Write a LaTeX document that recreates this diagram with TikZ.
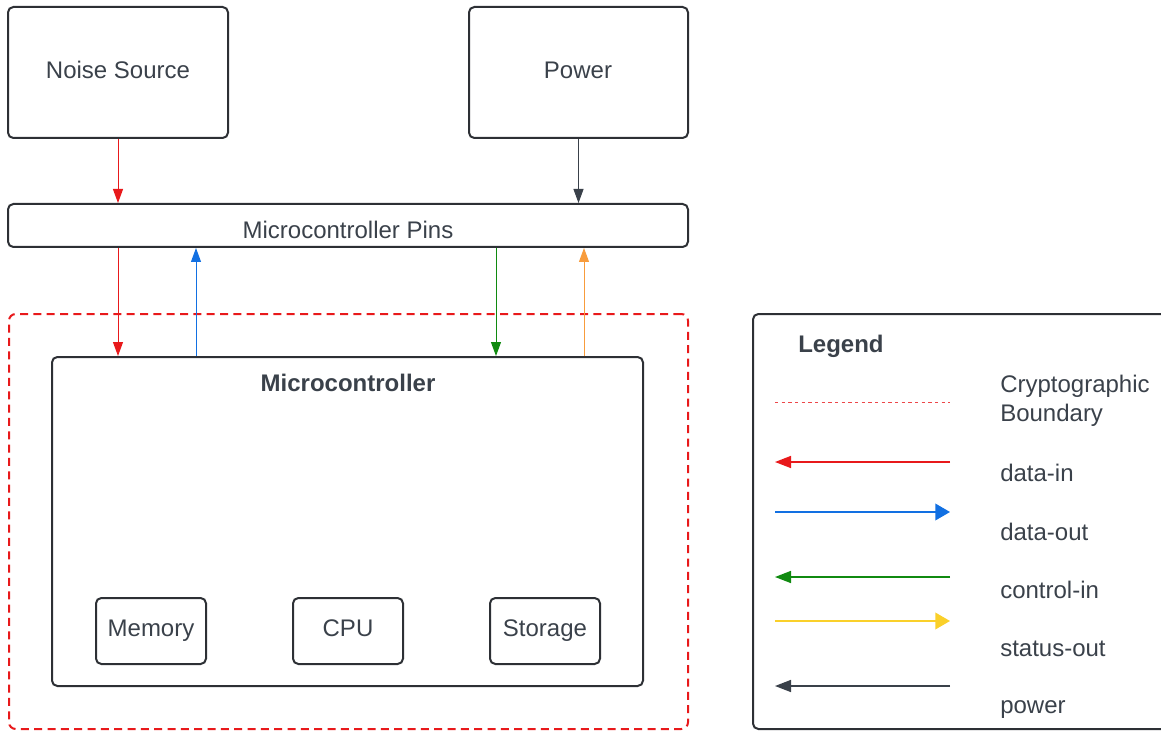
\documentclass[tikz,border=0pt]{standalone}
\usepackage{fontspec}
\setmainfont{Liberation Sans}
\usetikzlibrary{arrows.meta}
\definecolor{txt}{HTML}{3A414A}
\definecolor{edge}{HTML}{2D3035}
\definecolor{cred}{HTML}{E8191B}
\definecolor{cblue}{HTML}{1270E2}
\definecolor{cgreen}{HTML}{108A10}
\definecolor{corange}{HTML}{F89C3C}
\definecolor{cyellow}{HTML}{FAD02A}
\definecolor{cdark}{HTML}{3A414A}
\tikzset{
  box/.style={draw=edge, line width=1.5pt, rounded corners=4pt, inner sep=0pt},
  tx/.style={text=txt, font=\fontsize{18}{21}\selectfont, anchor=base, inner sep=0pt},
  lbl/.style={text=txt, font=\fontsize{18}{21.4}\selectfont, anchor=base west, inner sep=0pt, align=left},
  conn/.style={line width=0.75pt, -{Triangle[length=10.5pt,width=7.5pt]}},
  lconn/.style={line width=1.1pt, -{Triangle[length=12pt,width=9pt]}},
  lconnb/.style={line width=1.1pt, -{Triangle[length=11pt,width=12.5pt]}},
}
\begin{document}
\begin{tikzpicture}[x=0.75pt,y=-0.75pt]
\useasboundingbox (0,0) rectangle (1161,731);
% boxes
\node[box, minimum width=165pt, minimum height=98.25pt] (noise) at (118,72.5) {};
\node[tx] (noiseT) at (118,78.3) {Noise Source};
\node[box, minimum width=164.25pt, minimum height=98.25pt] (power) at (578.5,72.5) {};
\node[tx] (powerT) at (578,78.3) {Power};
\node[box, minimum width=510pt, minimum height=32.25pt] (pins) at (348,225.5) {};
\node[tx] (pinsT) at (348,238.3) {Microcontroller Pins};
\node[draw=cred, line width=1.5pt, dash pattern=on 6pt off 4pt, rounded corners=5pt, minimum width=509.25pt, minimum height=311.25pt, inner sep=0pt] (boundary) at (348.5,521.5) {};
\node[box, minimum width=443.25pt, minimum height=246.75pt] (micro) at (347.5,521.5) {};
\node[tx, font=\bfseries\fontsize{18}{21}\selectfont] (microT) at (348,391.7) {Microcontroller};
\node[box, minimum width=82.5pt, minimum height=49.5pt] (mem) at (151,631) {};
\node[tx] (memT) at (151,636.7) {Memory};
\node[box, minimum width=82.5pt, minimum height=49.5pt] (cpu) at (348,631) {};
\node[tx] (cpuT) at (348,636.7) {CPU};
\node[box, minimum width=82.5pt, minimum height=49.5pt] (stor) at (545,631) {};
\node[tx] (storT) at (545,636.7) {Storage};
% connectors
\coordinate (xb) at (196,0);
\coordinate (xg) at (496,0);
\coordinate (xo) at (584,0);
\draw[conn, cred] (noise.south) -- (pins.north -| noise.south);
\draw[conn, cdark] (power.south) -- (pins.north -| power.south);
\draw[conn, cred] (pins.south -| noise.south) -- (micro.north -| noise.south);
\draw[conn, cblue] (micro.north -| xb) -- (pins.south -| xb);
\draw[conn, cgreen] (pins.south -| xg) -- (micro.north -| xg);
\draw[conn, corange] (micro.north -| xo) -- (pins.south -| xo);
% legend
\node[draw=edge, line width=1.5pt, rounded corners=4pt, minimum width=312.75pt, minimum height=311.25pt, inner sep=0pt] (legend) at (961.5,521.5) {};
\node[lbl, font=\bfseries\fontsize{18}{21}\selectfont] (legtitle) at (798,352.5) {Legend};
\coordinate (a1) at (775,402); \coordinate (b1) at (950,402);
\coordinate (a2) at (775,462); \coordinate (b2) at (950,462);
\coordinate (a3) at (775,512); \coordinate (b3) at (950,512);
\coordinate (a4) at (775,577); \coordinate (b4) at (950,577);
\coordinate (a5) at (775,621); \coordinate (b5) at (950,621);
\coordinate (a6) at (775,686); \coordinate (b6) at (950,686);
\draw[cred!80, line width=0.75pt, dash pattern=on 2.5pt off 2.5pt] (a1) -- (b1);
\draw[lconn, cred] (b2) -- (a2);
\draw[lconnb, cblue] (a3) -- (b3);
\draw[lconn, cgreen] (b4) -- (a4);
\draw[lconnb, cyellow] (a5) -- (b5);
\draw[lconn, black, draw=cdark] (b6) -- (a6);
\node[lbl] (l1) at (1000,421.5) {Cryptographic\\Boundary};
\node[lbl] (l2) at (1000,481) {data-in};
\node[lbl] (l3) at (1000,540) {data-out};
\node[lbl] (l4) at (1000,598) {control-in};
\node[lbl] (l5) at (1000,656.5) {status-out};
\node[lbl] (l6) at (1000,713) {power};
\end{tikzpicture}
\end{document}
